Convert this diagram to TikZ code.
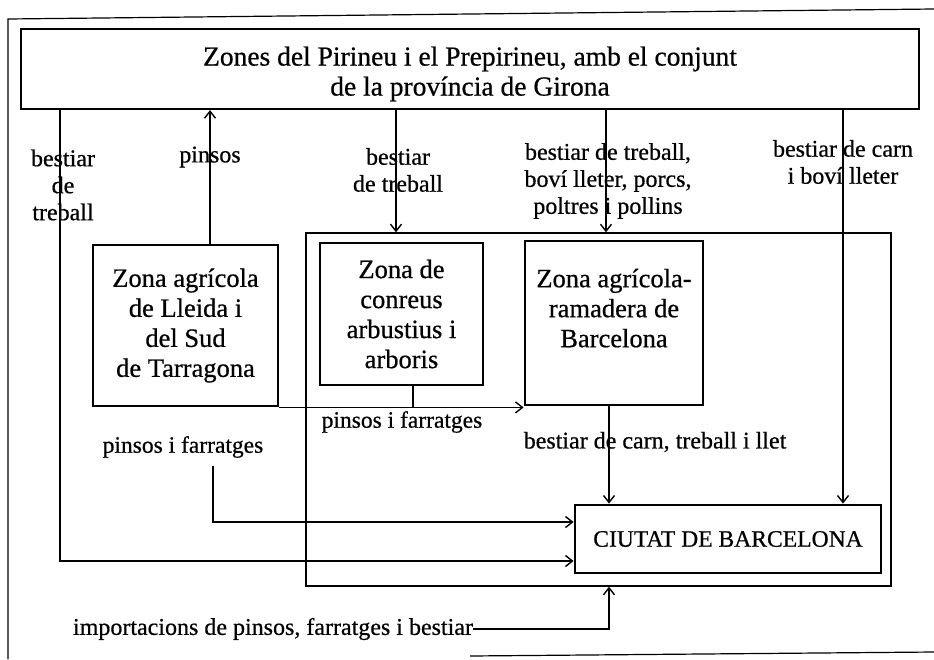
\documentclass[tikz,border=0pt]{standalone}
\usepackage{fontspec}
\setmainfont{Liberation Serif}[FakeBold=0.6]
\usetikzlibrary{arrows.meta}
\begin{document}
\begin{tikzpicture}[x=1pt,y=-1pt,
  thickbox/.style={draw, line width=2.8pt, inner sep=0pt, align=center,
    font=\fontsize{26.5}{30}\selectfont},
  topbox/.style={draw, line width=2.2pt, inner sep=0pt, align=center,
    font=\fontsize{27.5}{30}\selectfont},
  framebox/.style={draw, line width=1.4pt, inner sep=0pt},
  lbl/.style={inner sep=0pt, align=center, font=\fontsize{24}{27}\selectfont},
  lblw/.style={inner sep=0pt, align=center, font=\fontsize{23.5}{27}\selectfont},
  conn/.style={line width=1.4pt},
  arr/.style={conn, -{Straight Barb[length=7pt,width=11pt,line width=1.4pt]}}]
\useasboundingbox (0,0) rectangle (934,659);
% outer frame
\draw[line width=1.2pt] (8,659) -- (8,19) -- (934,9);
\draw[line width=1.2pt] (470,656) -- (934,652);
% boxes
\node[topbox, minimum width=898pt, minimum height=80pt] (T) at (470,69)
  {\rule{0pt}{29pt}Zones del Pirineu i el Prepirineu, amb el conjunt\\de la província de Girona};
\node[framebox, minimum width=585pt, minimum height=353pt] (F) at (598.5,409.5) {};
\node[thickbox, minimum width=185pt, minimum height=161pt] (L) at (185.5,325.5)
  {Zona agrícola\\de Lleida i\\del Sud\\de Tarragona};
\node[thickbox, minimum width=163pt, minimum height=142pt] (C) at (401.5,314)
  {Zona de\\conreus\\arbustius i\\arboris};
\node[thickbox, minimum width=178pt, minimum height=164pt] (A) at (614,323)
  {Zona agrícola-\\ramadera de\\Barcelona\\\mbox{}};
\node[thickbox, minimum width=306pt, minimum height=68pt,
  font=\fontsize{23.6}{27}\selectfont] (B) at (728,539) {CIUTAT DE BARCELONA};
% labels
\node[lbl] (l1) at (63,185) {bestiar\\de\\treball};
\node[lbl] (l2) at (210,157) {pinsos};
\node[lbl] (l3) at (398,170) {bestiar\\de treball};
\node[lbl] (l4) at (608,181) {bestiar de treball,\\boví lleter, porcs,\\poltres i pollins};
\node[lbl] (l5) at (843,162) {bestiar de carn\\i boví lleter};
\node[lblw] (l6) at (402,422) {pinsos i farratges};
\node[lblw] (l7) at (183,447) {pinsos i farratges};
\node[lbl] (l8) at (655,442) {bestiar de carn, treball i llet};
\node[lbl, font=\fontsize{24}{27}\selectfont] (l9) at (273,629)
  {importacions de pinsos, farratges i bestiar};
% coordinates
\coordinate (x1) at (60,561);
\coordinate (x2) at (210,0);
\coordinate (x3) at (396,0);
\coordinate (x4) at (606,0);
\coordinate (x5) at (843,0);
\coordinate (x6) at (413,0);
\coordinate (x7) at (213,522);
\coordinate (x8) at (609,0);
% connectors
\draw[arr] (T.south -| x1) -- (x1) -- (x1 -| B.west);
\draw[arr] (L.north -| x2) -- (T.south -| x2);
\draw[arr] (T.south -| x3) -- (F.north -| x3);
\draw[arr] (T.south -| x4) -- (F.north -| x4);
\draw[arr] (T.south -| x5) -- (B.north -| x5);
\draw[arr] (L.south east) -- (A.west |- L.south east);
\draw[conn] (C.south -| x6) -- (L.south -| x6);
\draw[arr, shorten <=8pt] (l7.south -| x7) -- (x7) -- (x7 -| B.west);
\draw[arr] (A.south -| x8) -- (B.north -| x8);
\draw[arr] (l9.east) -- (l9.east -| x8) -- (F.south -| x8);
\end{tikzpicture}
\end{document}
